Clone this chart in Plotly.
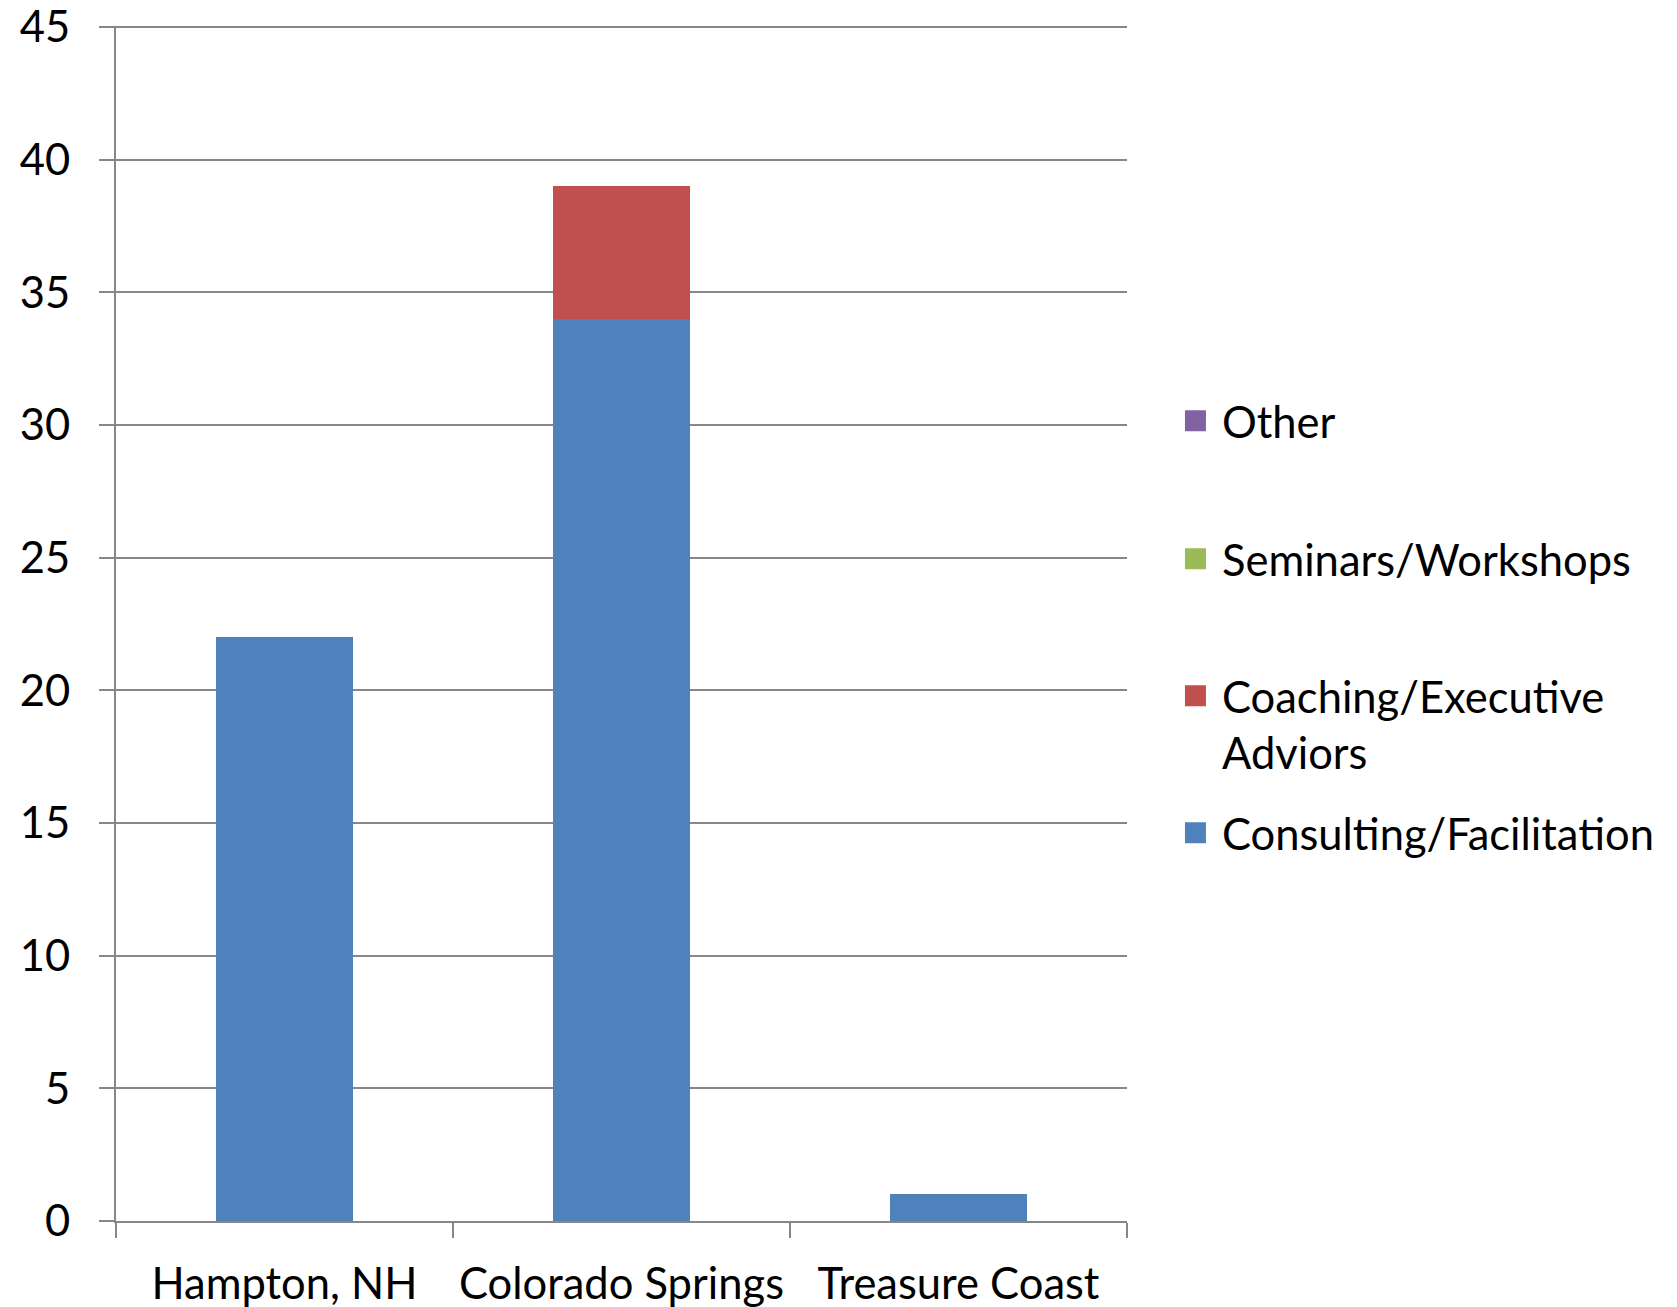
import plotly.graph_objects as go

categories = ["Hampton, NH", "Colorado Springs", "Treasure Coast"]
series_names = ["Consulting/Facilitation", "Coaching/Executive<br>Adviors", "Seminars/Workshops", "Other"]
consulting = [22, 34, 1]
coaching = [0, 5, 0]
seminars = [0, 0, 0]
other = [0, 0, 0]
series_values = [consulting, coaching, seminars, other]
colors = ["#4F81BD", "#C0504D", "#9BBB59", "#8064A2"]
y_ticks = [0, 5, 10, 15, 20, 25, 30, 35, 40, 45]

GRID = "#878787"
FONT = "Lato"
FS = 43.5

fig = go.Figure()
for name, vals, col in zip(series_names, series_values, colors):
    fig.add_trace(go.Bar(x=categories, y=vals, name=name.replace("<br>", " "),
                         marker=dict(color=col, line=dict(width=0)),
                         showlegend=False))

# legend entries (no data drawn; only used for the legend swatches)
legend_ids = ["legend4", "legend3", "legend2", "legend"]
for name, col, lid in zip(series_names, colors, legend_ids):
    fig.add_trace(go.Scatter(x=categories[:1], y=[None], name=name, mode="markers",
                             marker=dict(symbol="square", size=16, color=col,
                                         line=dict(width=5, color=col)),
                             showlegend=True, legend=lid, hoverinfo="skip"))

def leg(y):
    return dict(x=1.0415, xanchor="left", y=y, yanchor="top", bgcolor="rgba(0,0,0,0)",
                borderwidth=0, itemwidth=43, valign="top", itemsizing="trace",
                font=dict(family=FONT, size=FS, color="black"), tracegroupgap=0)

fig.update_layout(
    width=1677, height=1307,
    margin=dict(l=116, r=550, t=26, b=86, pad=0, autoexpand=False),
    paper_bgcolor="white", plot_bgcolor="white",
    barmode="stack", bargap=0.596,
    font=dict(family=FONT, size=FS, color="black"),
    xaxis=dict(type="category", tickson="boundaries", ticks="outside", ticklen=15,
               tickwidth=2, tickcolor=GRID, showline=True, linecolor=GRID, linewidth=2,
               showgrid=False, ticklabelstandoff=24, tickangle=0, automargin=False,
               tickfont=dict(family=FONT, size=FS, color="black")),
    yaxis=dict(range=[0, 45.04], tickvals=y_ticks, showgrid=True, gridcolor=GRID, gridwidth=2,
               ticks="outside", ticklen=15, tickwidth=2, tickcolor=GRID,
               showline=True, linecolor=GRID, linewidth=2, zeroline=False,
               ticklabelstandoff=20, automargin=False, ticklabeloverflow="allow",
               tickfont=dict(family=FONT, size=FS, color="black")),
    legend=leg(0.6987),
    legend2=leg(0.5833),
    legend3=leg(0.4686),
    legend4=leg(0.3540),
)

fig.write_html("out.html")
